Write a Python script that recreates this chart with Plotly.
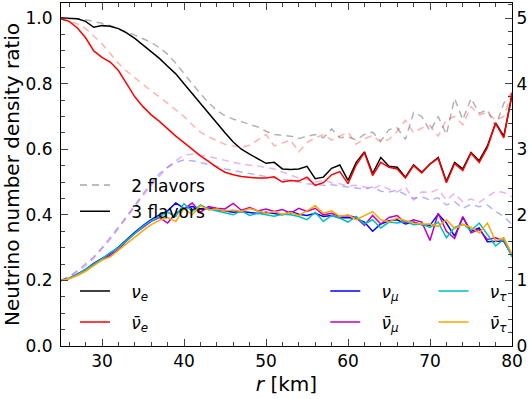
import numpy as np
import plotly.graph_objects as go

# radius grid [km]
r = np.arange(25, 81)

# 3 flavors, solid lines
nu_e = [1.000, 1.000, 0.998, 0.990, 0.972, 0.977, 0.975, 0.968, 0.955, 0.938,
        0.918, 0.897, 0.877, 0.853, 0.830, 0.800, 0.770, 0.740, 0.708, 0.680,
        0.650, 0.622, 0.600, 0.585, 0.570, 0.557, 0.560, 0.540, 0.538, 0.540,
        0.548, 0.510, 0.515, 0.542, 0.552, 0.505, 0.560, 0.592, 0.526, 0.575,
        0.548, 0.545, 0.515, 0.552, 0.530, 0.555, 0.575, 0.502, 0.560, 0.540,
        0.590, 0.565, 0.610, 0.680, 0.640, 0.765]
nubar_e = [0.997, 0.990, 0.970, 0.940, 0.900, 0.880, 0.866, 0.840, 0.800, 0.760,
           0.730, 0.705, 0.685, 0.662, 0.640, 0.620, 0.600, 0.580, 0.563, 0.545,
           0.530, 0.522, 0.517, 0.514, 0.512, 0.512, 0.516, 0.500, 0.505, 0.503,
           0.515, 0.490, 0.498, 0.522, 0.532, 0.495, 0.552, 0.590, 0.520, 0.560,
           0.545, 0.540, 0.512, 0.550, 0.528, 0.555, 0.572, 0.498, 0.556, 0.535,
           0.588, 0.560, 0.605, 0.680, 0.635, 0.770]
nu_mu = [0.200, 0.207, 0.219, 0.234, 0.252, 0.267, 0.282, 0.302, 0.325, 0.347,
         0.367, 0.385, 0.400, 0.412, 0.436, 0.420, 0.425, 0.418, 0.420, 0.416,
         0.412, 0.408, 0.410, 0.407, 0.404, 0.408, 0.403, 0.400, 0.410, 0.402,
         0.398, 0.405, 0.395, 0.398, 0.390, 0.392, 0.388, 0.378, 0.350, 0.372,
         0.382, 0.385, 0.372, 0.378, 0.370, 0.368, 0.402, 0.375, 0.335, 0.392,
         0.350, 0.360, 0.318, 0.318, 0.320, 0.275]
nubar_mu = [0.200, 0.206, 0.216, 0.230, 0.248, 0.264, 0.276, 0.295, 0.320, 0.343,
            0.362, 0.380, 0.392, 0.375, 0.405, 0.418, 0.436, 0.408, 0.425, 0.420,
            0.418, 0.435, 0.414, 0.422, 0.412, 0.418, 0.410, 0.416, 0.405, 0.420,
            0.410, 0.420, 0.400, 0.405, 0.395, 0.398, 0.392, 0.368, 0.398, 0.372,
            0.392, 0.398, 0.375, 0.385, 0.378, 0.322, 0.405, 0.350, 0.328, 0.395,
            0.345, 0.355, 0.325, 0.330, 0.320, 0.278]
nu_tau = [0.200, 0.207, 0.218, 0.233, 0.250, 0.266, 0.285, 0.300, 0.322, 0.345,
          0.365, 0.382, 0.396, 0.408, 0.395, 0.434, 0.410, 0.430, 0.418, 0.412,
          0.405, 0.400, 0.412, 0.398, 0.405, 0.400, 0.396, 0.402, 0.400, 0.395,
          0.385, 0.408, 0.380, 0.398, 0.390, 0.378, 0.395, 0.372, 0.385, 0.360,
          0.378, 0.375, 0.380, 0.370, 0.372, 0.362, 0.378, 0.330, 0.362, 0.372,
          0.352, 0.375, 0.340, 0.305, 0.325, 0.272]
nubar_tau = [0.200, 0.205, 0.215, 0.228, 0.245, 0.262, 0.272, 0.292, 0.312, 0.333,
             0.352, 0.370, 0.383, 0.392, 0.380, 0.420, 0.400, 0.428, 0.415, 0.418,
             0.412, 0.415, 0.410, 0.419, 0.412, 0.405, 0.410, 0.402, 0.408, 0.398,
             0.412, 0.428, 0.405, 0.412, 0.395, 0.400, 0.385, 0.398, 0.410, 0.385,
             0.378, 0.390, 0.382, 0.375, 0.372, 0.372, 0.365, 0.385, 0.358, 0.370,
             0.362, 0.345, 0.375, 0.320, 0.330, 0.280]

# 2 flavors, dashed faded lines
nu_e_2f = [1.000, 1.000, 0.998, 0.995, 0.990, 0.984, 0.977, 0.968, 0.958, 0.948,
           0.937, 0.926, 0.910, 0.890, 0.862, 0.830, 0.800, 0.770, 0.742, 0.718,
           0.702, 0.692, 0.685, 0.676, 0.668, 0.655, 0.645, 0.642, 0.640, 0.633,
           0.638, 0.645, 0.635, 0.662, 0.635, 0.638, 0.628, 0.645, 0.652, 0.625,
           0.660, 0.665, 0.630, 0.712, 0.700, 0.655, 0.700, 0.645, 0.755, 0.690,
           0.755, 0.710, 0.720, 0.670, 0.740, 0.775]
nubar_e_2f = [1.000, 0.992, 0.982, 0.968, 0.945, 0.922, 0.892, 0.862, 0.838, 0.818,
              0.797, 0.778, 0.760, 0.740, 0.720, 0.700, 0.675, 0.652, 0.638, 0.627,
              0.615, 0.610, 0.606, 0.612, 0.628, 0.645, 0.610, 0.618, 0.628, 0.592,
              0.620, 0.635, 0.645, 0.628, 0.640, 0.652, 0.615, 0.632, 0.642, 0.622,
              0.630, 0.655, 0.688, 0.650, 0.665, 0.672, 0.640, 0.690, 0.700, 0.675,
              0.730, 0.705, 0.712, 0.688, 0.700, 0.772]
nu_x_2f = [0.200, 0.212, 0.230, 0.250, 0.272, 0.300, 0.330, 0.362, 0.395, 0.430,
           0.465, 0.498, 0.525, 0.545, 0.560, 0.567, 0.565, 0.560, 0.555, 0.548,
           0.540, 0.535, 0.530, 0.525, 0.520, 0.515, 0.512, 0.508, 0.505, 0.500,
           0.495, 0.492, 0.490, 0.492, 0.488, 0.485, 0.480, 0.478, 0.485, 0.472,
           0.470, 0.475, 0.462, 0.450, 0.455, 0.445, 0.452, 0.430, 0.440, 0.420,
           0.432, 0.425, 0.430, 0.410, 0.395, 0.370]
nubar_x_2f = [0.200, 0.210, 0.226, 0.245, 0.268, 0.295, 0.325, 0.358, 0.390, 0.425,
              0.458, 0.490, 0.518, 0.545, 0.565, 0.582, 0.585, 0.582, 0.578, 0.572,
              0.565, 0.560, 0.555, 0.552, 0.548, 0.545, 0.540, 0.530, 0.520, 0.512,
              0.508, 0.500, 0.505, 0.498, 0.495, 0.488, 0.490, 0.485, 0.480, 0.490,
              0.478, 0.470, 0.485, 0.445, 0.470, 0.468, 0.478, 0.445, 0.465, 0.440,
              0.448, 0.438, 0.455, 0.472, 0.468, 0.455]

FONT = "DejaVu Sans"
NB = "\u00a0\u00a0\u00a0"

fig = go.Figure()

# faded dashed 2-flavor curves
for ys, col in [(nu_x_2f, "rgba(0,0,255,0.3)"), (nubar_x_2f, "rgba(191,0,191,0.3)"),
                (nu_e_2f, "rgba(0,0,0,0.3)"), (nubar_e_2f, "rgba(255,0,0,0.3)")]:
    fig.add_trace(go.Scatter(x=r, y=ys, mode="lines", showlegend=False,
                             line=dict(color=col, width=1.5, dash="7px,5px")))

# legend for line style
fig.add_trace(go.Scatter(x=[None], y=[None], mode="lines", name=NB + "2 flavors",
                         legend="legend", legendgroup="f2",
                         line=dict(color="rgba(0,0,0,0.35)", width=1.5, dash="7px,5px")))
fig.add_trace(go.Scatter(x=[None], y=[None], mode="lines", name=NB + "3 flavors",
                         legend="legend", legendgroup="f3",
                         line=dict(color="black", width=1.5)))

series = [
    (nu_e, "black", "<i>ν</i><sub><i>e</i></sub>", "legend2"),
    (nubar_e, "red", "<i>ν̄</i><sub><i>e</i></sub>", "legend2"),
    (nu_mu, "blue", "<i>ν</i><sub><i>μ</i></sub>", "legend3"),
    (nubar_mu, "#bf00bf", "<i>ν̄</i><sub><i>μ</i></sub>", "legend3"),
    (nu_tau, "#00bfbf", "<i>ν</i><sub><i>τ</i></sub>", "legend4"),
    (nubar_tau, "orange", "<i>ν̄</i><sub><i>τ</i></sub>", "legend4"),
]
for ys, col, name, lg in series:
    fig.add_trace(go.Scatter(x=r, y=ys, mode="lines", name=NB + name,
                             legend=lg, legendgroup=name,
                             line=dict(color=col, width=1.5)))

# dummy trace so the right axis is drawn
fig.add_trace(go.Scatter(x=[None], y=[None], yaxis="y2", showlegend=False))

leg = dict(xanchor="left", yanchor="middle", bgcolor="rgba(0,0,0,0)",
           font=dict(family=FONT, size=17, color="black"), tracegroupgap=6)

fig.update_layout(
    width=532, height=399,
    margin=dict(l=61, r=20, t=3, b=53),
    paper_bgcolor="white", plot_bgcolor="white",
    font=dict(family=FONT, size=17, color="black"),
    legend=dict(leg, x=0.031, y=0.43, tracegroupgap=1),
    legend2=dict(leg, x=0.031, y=0.114),
    legend3=dict(leg, x=0.586, y=0.114),
    legend4=dict(leg, x=0.826, y=0.114),
    xaxis=dict(range=[25, 80], tick0=0, dtick=10, ticks="inside", ticklen=7,
               mirror="ticks", showline=True, linecolor="black", linewidth=1,
               showgrid=False, zeroline=False,
               minor=dict(ticks="inside", ticklen=4, dtick=2, tick0=0, showgrid=False),
               title=dict(text="<i>r</i> [km]", standoff=6)),
    yaxis=dict(range=[0, 1.046], dtick=0.2, tickformat=".1f", ticks="inside",
               ticklen=7, showline=True, linecolor="black", linewidth=1,
               showgrid=False, zeroline=False, ticklabelstandoff=4,
               minor=dict(ticks="inside", ticklen=4, dtick=0.05, showgrid=False),
               title=dict(text="Neutrino number density ratio", standoff=4)),
    yaxis2=dict(range=[0, 5.23], dtick=1, overlaying="y", side="right",
                ticks="inside", ticklen=7, showline=True, linecolor="black",
                linewidth=1, showgrid=False, zeroline=False,
                minor=dict(ticks="inside", ticklen=4, dtick=0.2, showgrid=False)),
)

fig.write_html("out.html", config={"displayModeBar": False},
               post_script="document.body.style.margin='0';")
